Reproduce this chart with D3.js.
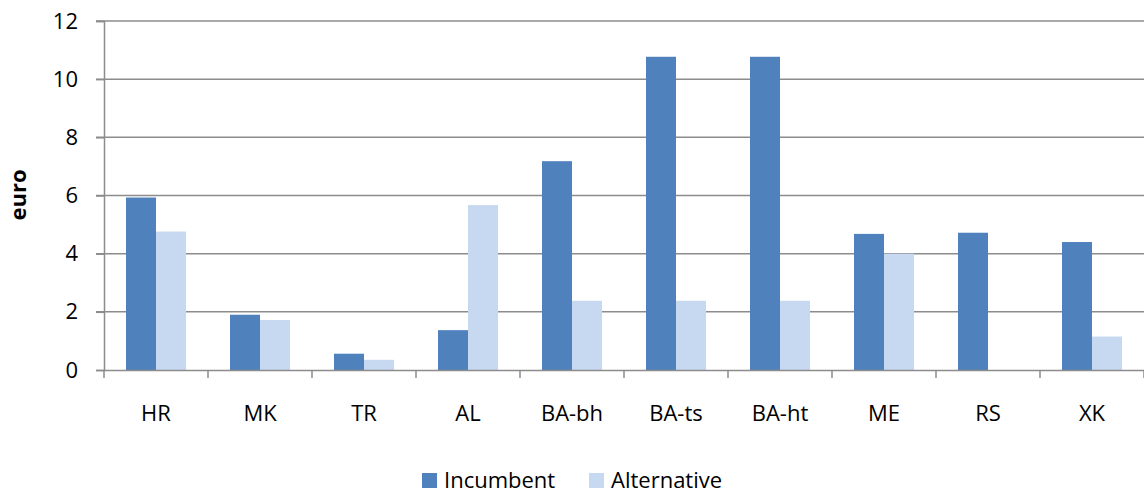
<!DOCTYPE html>
<html><head><meta charset="utf-8">
<script src="https://cdn.jsdelivr.net/npm/d3@7"></script>
<style>body{margin:0;background:#fff}svg{display:block}text{font-family:"Open Sans",sans-serif;fill:#000}</style>
</head><body><svg id="c" width="1144" height="493"></svg>
<script>
const categories = ["HR","MK","TR","AL","BA-bh","BA-ts","BA-ht","ME","RS","XK"];
const seriesNames = ["Incumbent","Alternative"];
const incumbent = [5.93,1.9,0.56,1.37,7.18,10.77,10.77,4.68,4.72,4.4];
const alternative = [4.76,1.72,0.35,5.67,2.38,2.38,2.38,4.0,0,1.15];
const yTicks = [0,2,4,6,8,10,12];
const colors = ["#4F81BD","#C6D9F0"];

const svg = d3.select("#c");
const m = {l:104, r:0, t:21, b:123};
const W = 1144, H = 493;
const FS = "22px";
const x = d3.scaleBand().domain(categories).range([m.l, W - m.r]).paddingInner(0).paddingOuter(0);
const x1 = d3.scaleBand().domain(seriesNames).range([0, x.bandwidth()]).paddingInner(0).paddingOuter(0.733);
const y = d3.scaleLinear().domain([0,12]).range([H - m.b, m.t]);

// gridlines
svg.append("g").selectAll("line").data(yTicks.filter(d=>d>0)).join("line")
  .attr("x1", m.l-8).attr("x2", W).attr("y1", d=>y(d)).attr("y2", d=>y(d))
  .attr("stroke","#8c8c8c").attr("stroke-width",1.5);

// bars
const data = [incumbent, alternative];
const g = svg.append("g");
categories.forEach((c,i)=>{
  seriesNames.forEach((s,j)=>{
    const v = data[j][i];
    if (v<=0) return;
    g.append("rect").attr("x", x(c)+x1(s)).attr("width", x1.bandwidth())
      .attr("y", y(v)).attr("height", y(0)-y(v)).attr("fill", colors[j]);
  });
});

// y axis
const yAxis = svg.append("g").attr("transform",`translate(${m.l},0)`)
  .call(d3.axisLeft(y).tickValues(yTicks).tickSize(8).tickPadding(18));
yAxis.select(".domain").attr("stroke","#8c8c8c").attr("stroke-width",1.5);
yAxis.selectAll(".tick line").attr("stroke","#8c8c8c").attr("stroke-width",1.5);
yAxis.selectAll("text").style("font-size",FS).attr("fill","#000");

// x axis
const xAxis = svg.append("g").attr("transform",`translate(0,${y(0)})`)
  .call(d3.axisBottom(x).tickSize(0).tickPadding(35));
xAxis.select(".domain").attr("stroke","#8c8c8c").attr("stroke-width",1.5);
xAxis.selectAll("text").style("font-size",FS).attr("fill","#000");
// category boundary ticks
svg.append("g").selectAll("line").data(d3.range(categories.length+1)).join("line")
  .attr("x1", i=>m.l + i*x.bandwidth()).attr("x2", i=>m.l + i*x.bandwidth())
  .attr("y1", y(0)).attr("y2", y(0)+8).attr("stroke","#8c8c8c").attr("stroke-width",1.5);

// y title
svg.append("text").attr("transform","translate(26,195) rotate(-90)")
  .attr("text-anchor","middle").style("font-size",FS).style("font-weight","bold").text("euro");

// legend
const leg = svg.append("g");
const legX = [422, 589];
seriesNames.forEach((s,j)=>{
  leg.append("rect").attr("x", legX[j]).attr("y", 473).attr("width",15).attr("height",15).attr("fill",colors[j]);
  leg.append("text").attr("x", legX[j]+22).attr("y", 488).style("font-size",FS).text(s);
});
</script></body></html>
